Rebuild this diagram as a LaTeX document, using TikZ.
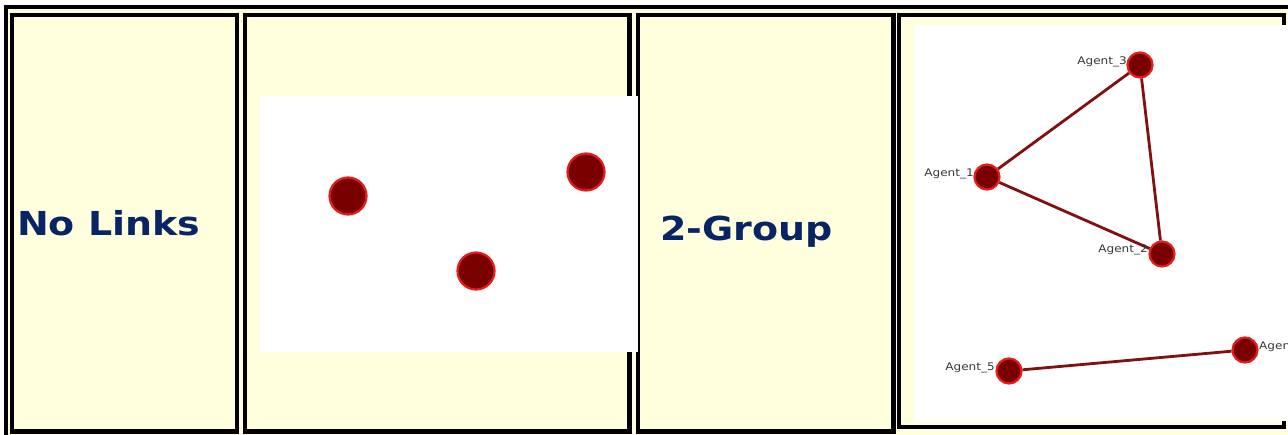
\documentclass[tikz,border=0pt]{standalone}
\usepackage{fontspec}
\usepackage{graphicx}
\newfontfamily\headfont[FakeStretch=1.15]{DejaVu Sans Bold}
\newfontfamily\agentfont[FakeStretch=1.15]{DejaVu Sans}
\definecolor{cream}{RGB}{255,255,222}
\definecolor{navy}{RGB}{8,36,100}
\definecolor{nodefill}{RGB}{122,0,0}
\definecolor{nodering}{RGB}{228,28,28}
\definecolor{edgecol}{RGB}{130,16,16}
\tikzset{
  cellbox/.style={draw=black, line width=4.4pt, fill=cream},
  panel/.style={fill=white, draw=none},
  agent/.style={circle, fill=nodefill, draw=nodering, line width=2.2pt, minimum size=#1, inner sep=0pt},
  agentlabel/.style={font=\agentfont\fontsize{10.5}{12}\selectfont, text=black!78, inner sep=0pt},
  heading/.style={font=\headfont\fontsize{33}{36}\selectfont, text=navy, inner sep=0pt, anchor=base west},
  link/.style={draw=edgecol, line width=2.8pt}
}
\begin{document}
\begin{tikzpicture}[x=1pt,y=-1pt]
\useasboundingbox (0,0) rectangle (1288,434);
\fill[white] (0,0) rectangle (1288,434);
\begin{scope}
\clip (0,0) rectangle (1288,434);
% outer table border
\draw[line width=4.4pt, fill=cream] (6,7) rectangle (1300,450);
% cells
\draw[cellbox] (12,15) rectangle (237,431.5);
\draw[cellbox] (245,15) rectangle (629.5,431.5);
\draw[cellbox] (638,15) rectangle (893.5,431.5);
\draw[cellbox] (899,15) rectangle (1284,427);
% image panels
\fill[panel] (260,96) rectangle (638,352);
\fill[panel] (914,25) rectangle (1288,421);
\end{scope}

% headings
\node[heading] (h1) at (17,235) {No Links};
\node[heading] (h2) at (660,240) {2-Group};

% no-links agents
\node[agent=37pt] (n1) at (348,196) {};
\node[agent=37pt] (n2) at (586,172) {};
\node[agent=37pt] (n3) at (476,271) {};

% 2-group agents
\node[agent=25pt] (a3) at (1140,65) {};
\node[agent=25pt] (a1) at (987,177) {};
\node[agent=25pt] (a2) at (1162,254) {};
\node[agent=25pt] (a5) at (1009,371) {};
\node[agent=25pt] (a4) at (1245,350) {};

\draw[link] (a1) -- (a3);
\draw[link] (a1) -- (a2);
\draw[link] (a3) -- (a2);
\draw[link] (a5) -- (a4);

\node[agentlabel, anchor=east] (l3) at (1127,62) {Agent\_3};
\node[agentlabel, anchor=east] (l1) at (974,174) {Agent\_1};
\node[agentlabel, anchor=east] (l2) at (1148,250) {Agent\_2};
\node[agentlabel, anchor=east] (l5) at (995,368) {Agent\_5};
\begin{scope}
\clip (914,25) rectangle (1288,421);
\node[agentlabel, anchor=west] (l4) at (1259,347) {Agent\_4};
\end{scope}
\end{tikzpicture}
\end{document}
